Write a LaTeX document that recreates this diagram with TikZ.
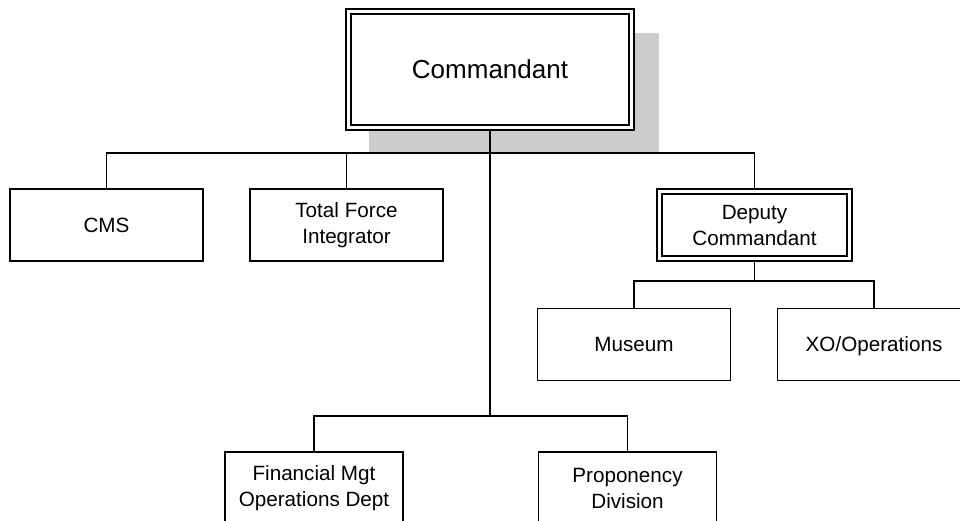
\documentclass[tikz,border=0pt]{standalone}
\usepackage{fontspec}
\setmainfont{Liberation Sans}
\usetikzlibrary{positioning}

\begin{document}
\begin{tikzpicture}[
        x=0.75pt, y=-0.75pt,
        line width=1.1pt,
        orgbox/.style={draw, rectangle, fill=white, align=center,
            minimum width=145pt, minimum height=54pt, inner sep=0pt,
            font=\fontsize{15.5}{19.5}\selectfont},
        oneline/.style={text depth=0pt},
        headbox/.style={orgbox, double, double distance=2.6pt, outer sep=2.4pt},
        shadowbox/.style={rectangle, fill=black!20, minimum width=217.5pt,
            minimum height=90pt, inner sep=0pt}
    ]
        \useasboundingbox (0,0) rectangle (960,521);
        \clip (0,0) rectangle (960,521);

        \node[shadowbox] (shd) at (514,93) {};
        \node[headbox, oneline, minimum width=212.25pt, minimum height=87pt,
            font=\fontsize{19.5}{24}\selectfont] (cmd) at (490,69.5) {Commandant};

        \node[orgbox, oneline] (cms) at (106.5,225) {CMS};
        \node[orgbox] (tfi) at (346.5,225) {Total Force\\Integrator};
        \node[headbox, minimum width=142.5pt, minimum height=50.25pt] (dep) at (754.5,225) {Deputy\\Commandant};

        \node[orgbox, oneline] (mus) at (634,344.5) {Museum};
        \node[orgbox, oneline] (xo) at (874,344.5) {XO/Operations};

        \node[orgbox, minimum width=133.5pt] (fin) at (314,488) {Financial Mgt\\Operations Dept};
        \node[orgbox, minimum width=133.5pt] (prop) at (627.5,488) {Proponency\\Division};

        \coordinate (bus1) at (490,153);
        \coordinate (bus2) at (754.5,281);
        \coordinate (bus3) at (490,416);

        \draw (cmd.south) -- (bus3);
        \draw (cms.north) |- (bus1) -| (dep.north);
        \draw (tfi.north) -- (tfi.north |- bus1);
        \draw (dep.south) -- (bus2);
        \draw (mus.north) |- (bus2) -| (xo.north);
        \draw (fin.north) |- (bus3) -| (prop.north);
    \end{tikzpicture}
\end{document}
